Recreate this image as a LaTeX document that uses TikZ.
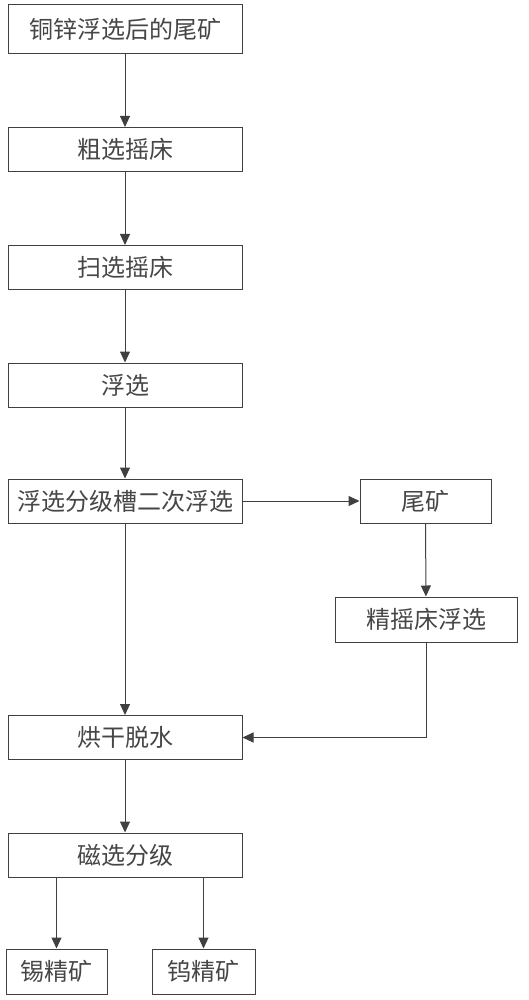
\documentclass[tikz,border=0pt]{standalone}
\usepackage{fontspec}
\newfontfamily\cjk{Noto Sans CJK SC}
\usetikzlibrary{arrows.meta}
\definecolor{linegray}{RGB}{64,64,64}
\definecolor{textgray}{RGB}{70,70,70}
\tikzset{
  procbox/.style={draw=linegray, line width=1pt, inner sep=0pt, minimum height=44pt,
    font=\cjk\fontsize{24}{24}\selectfont, text=textgray},
  flow/.style={draw=linegray, line width=1pt, -{Triangle[length=11pt,width=10pt]}}
}
\begin{document}
\begin{tikzpicture}[x=1pt,y=-1pt]
\useasboundingbox (0,0) rectangle (528,1000);
\node[procbox, minimum width=234pt, minimum height=49pt] (feed) at (125,29.5) {铜锌浮选后的尾矿};
\node[procbox, minimum width=234pt] (rough) at (125,149.5) {粗选摇床};
\node[procbox, minimum width=234pt] (scav) at (125,267.5) {扫选摇床};
\node[procbox, minimum width=234pt] (float) at (125,385) {浮选};
\node[procbox, minimum width=234pt] (second) at (125,501) {浮选分级槽二次浮选};
\node[procbox, minimum width=131pt] (tail) at (425.5,501) {尾矿};
\node[procbox, minimum width=182pt, minimum height=45pt] (fine) at (426,619.5) {精摇床浮选};
\node[procbox, minimum width=234pt] (dry) at (125,737.5) {烘干脱水};
\node[procbox, minimum width=234pt] (mag) at (125,855) {磁选分级};
\node[procbox, minimum width=101pt, minimum height=45pt] (tin) at (56.5,971.5) {锡精矿};
\node[procbox, minimum width=103pt, minimum height=45pt] (wolf) at (203.5,971.5) {钨精矿};

\draw[flow] (feed) -- (rough);
\draw[flow] (rough) -- (scav);
\draw[flow] (scav) -- (float);
\draw[flow] (float) -- (second);
\draw[flow] (second) -- (tail);
\draw[flow] (tail) -- (fine);
\draw[flow] (second) -- (dry);
\draw[flow] (fine.south) |- (dry.east);
\draw[flow] (dry) -- (mag);
\draw[flow] (tin.north |- mag.south) -- (tin.north);
\draw[flow] (wolf.north |- mag.south) -- (wolf.north);

\end{tikzpicture}
\end{document}
